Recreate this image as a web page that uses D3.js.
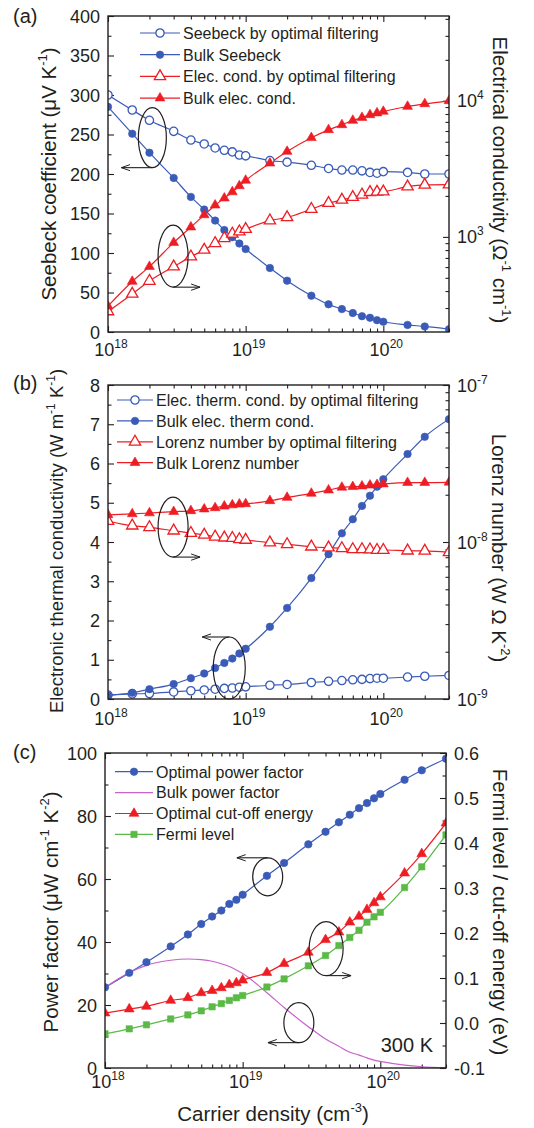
<!DOCTYPE html>
<html>
<head>
<meta charset="utf-8">
<script src="https://cdn.jsdelivr.net/npm/d3@7"></script>
<style>
  body { margin: 0; background: #fff; }
  svg text { font-family: "Liberation Sans", Arial, sans-serif; fill: #231f20; }
</style>
</head>
<body>
<div id="canvas"></div>
<script>
// carrier density grid, shared by the three panels (cm^-3)
var density = [1e18, 1.5e18, 2e18, 3e18, 4e18, 5e18, 6e18, 7e18, 8e18, 9e18,
               1e19, 1.5e19, 2e19, 3e19, 4e19, 5e19, 6e19, 7e19, 8e19, 9e19,
               1e20, 1.5e20, 2e20, 3e20];
var xTickExp = [18, 19, 20];

// (a) Seebeck coefficient (uV/K) and electrical conductivity (1/(ohm cm))
var seebeckFilter = [300, 281, 268, 254, 243, 238, 233, 230, 228, 224, 223, 217, 215, 211, 207, 205, 205, 204, 202, 201, 203, 202, 200, 200];
var seebeckBulk   = [285, 251, 227, 195, 171, 155, 141, 129, 120, 112, 105, 81, 65, 46, 35, 29, 24, 20, 18, 15, 13, 9, 7, 3.5];
var condFilter    = [283, 381, 474, 604, 716, 802, 898, 977, 1053, 1094, 1140, 1318, 1390, 1600, 1770, 1870, 1960, 2040, 2130, 2140, 2150, 2340, 2410, 2420];
var condBulk      = [310, 470, 605, 908, 1180, 1450, 1710, 1925, 2140, 2370, 2600, 3480, 4240, 5350, 6120, 6660, 7170, 7530, 7890, 8130, 8350, 9080, 9500, 10000];
var seebeckTicks  = [0, 50, 100, 150, 200, 250, 300, 350, 400];
var condTickExp   = [3, 4];

// (b) electronic thermal conductivity (W/(m K)) and Lorenz number (W ohm / K^2)
var kappaFilter  = [0.1, 0.13, 0.14, 0.18, 0.21, 0.23, 0.25, 0.27, 0.28, 0.3, 0.31, 0.35, 0.37, 0.42, 0.45, 0.47, 0.49, 0.5, 0.52, 0.53, 0.53, 0.56, 0.58, 0.6];
var kappaBulk    = [0.09, 0.16, 0.25, 0.38, 0.53, 0.65, 0.79, 0.92, 1.03, 1.16, 1.28, 1.84, 2.32, 3.08, 3.69, 4.22, 4.58, 4.92, 5.18, 5.41, 5.6, 6.24, 6.68, 7.13];
var lorenzFilter = [1.36e-8, 1.27e-8, 1.24e-8, 1.18e-8, 1.14e-8, 1.11e-8, 1.08e-8, 1.065e-8, 1.06e-8, 1.04e-8, 1.03e-8, 0.99e-8, 0.966e-8, 0.933e-8, 0.92e-8, 0.912e-8, 0.898e-8, 0.898e-8, 0.895e-8, 0.889e-8, 0.889e-8, 0.88e-8, 0.878e-8, 0.86e-8];
var lorenzBulk   = [1.49e-8, 1.51e-8, 1.53e-8, 1.56e-8, 1.58e-8, 1.62e-8, 1.65e-8, 1.69e-8, 1.72e-8, 1.74e-8, 1.75e-8, 1.83e-8, 1.92e-8, 2.04e-8, 2.14e-8, 2.23e-8, 2.25e-8, 2.27e-8, 2.3e-8, 2.32e-8, 2.34e-8, 2.39e-8, 2.39e-8, 2.4e-8];
var kappaTicks   = [0, 1, 2, 3, 4, 5, 6, 7, 8];
var lorenzTickExp = [-9, -8, -7];

// (c) power factor (uW/(cm K^2)) and energies (eV)
var pfOptimal = [25.6, 30.2, 33.6, 38.6, 42.4, 45.7, 48.1, 50.0, 52.1, 53.4, 55.0, 61.0, 65.1, 71.0, 75.0, 78.0, 80.4, 82.5, 84.1, 85.6, 87.0, 91.5, 94.5, 98.2];
var pfBulk    = [25.5, 30.3, 32.6, 34.2, 34.6, 34.4, 33.9, 33.1, 32.2, 31.1, 30.0, 23.9, 19.2, 13.1, 9.2, 6.9, 5.0, 4.1, 3.2, 2.5, 2.1, 0.9, 0.4, 0.1];
var cutoff    = [0.022, 0.031, 0.037, 0.050, 0.056, 0.067, 0.072, 0.078, 0.085, 0.089, 0.095, 0.112, 0.132, 0.157, 0.185, 0.202, 0.224, 0.237, 0.252, 0.267, 0.28, 0.333, 0.376, 0.444];
var fermi     = [-0.024, -0.013, -0.004, 0.009, 0.018, 0.027, 0.036, 0.043, 0.050, 0.056, 0.061, 0.080, 0.098, 0.127, 0.150, 0.172, 0.190, 0.206, 0.224, 0.236, 0.246, 0.301, 0.347, 0.418];
var pfTicks     = [0, 20, 40, 60, 80, 100];
var energyTicks = ["-0.1", "0.0", "0.1", "0.2", "0.3", "0.4", "0.5", "0.6"];

var BLUE = "#3a5bb8", RED = "#ee1d23", GREEN = "#5ab947", PINK = "#c862c8", INK = "#231f20";

var svg = d3.select("#canvas").append("svg")
    .attr("width", 534)
    .attr("height", 1128);

svg.append("defs").append("marker")
    .attr("id", "arrow")
    .attr("viewBox", "0 0 10 10")
    .attr("refX", 10)
    .attr("refY", 5)
    .attr("markerWidth", 9)
    .attr("markerHeight", 9)
    .attr("markerUnits", "userSpaceOnUse")
    .attr("orient", "auto")
  .append("path")
    .attr("d", "M0,1.5L10,5L0,8.5")
    .attr("fill", "none")
    .attr("stroke", INK)
    .attr("stroke-width", 1.1);

// writes text made of plain parts and "^" superscript parts
function rich(text, parts, size) {
  var shift = 0;
  parts.forEach(function (p) {
    var sup = p[0] === "^";
    var want = sup ? -Math.round(size * 0.42) : 0;
    var t = text.append("tspan").text(sup ? p.slice(1) : p).attr("dy", want - shift);
    if (sup) t.attr("font-size", Math.round(size * 0.64));
    shift = want;
  });
  return text;
}

function symbolPath(s) {
  var types = { circle: d3.symbolCircle, triangle: d3.symbolTriangle, square: d3.symbolSquare };
  var size = s.marker === "circle" ? (s.open ? 54 : 44) : s.marker === "triangle" ? (s.open ? 56 : 42) : 40;
  return d3.symbol(types[s.marker], size)();
}

function drawPanel(p) {
  var g = svg.append("g");
  var x = d3.scaleLog().domain([1e18, 3e20]).range([p.l, p.r]);
  var yL = p.yLeft.range([p.b, p.t]);
  var yR = p.yRight.range([p.b, p.t]);

  svg.select("defs").append("clipPath").attr("id", "clip-" + p.id)
    .append("rect").attr("x", p.l).attr("y", p.t).attr("width", p.r - p.l).attr("height", p.b - p.t);

  // ticks, all pointing into the frame
  function ticks(axis, scale, values, size, tx, ty) {
    var a = g.append("g").attr("transform", "translate(" + tx + "," + ty + ")")
      .style("color", INK)
      .call(axis(scale).tickValues(values).tickSize(-size).tickFormat(""));
    a.select(".domain").remove();
    a.selectAll("line").attr("stroke-width", 1.1);
  }
  var xMajor = xTickExp.map(function (e) { return Math.pow(10, e); });
  var xMinor = x.ticks().filter(function (v) { return xMajor.indexOf(v) < 0; });
  ticks(d3.axisBottom, x, xMajor, 6, 0, p.b);
  ticks(d3.axisBottom, x, xMinor, 3.5, 0, p.b);
  ticks(d3.axisTop, x, xMajor, 6, 0, p.t);
  ticks(d3.axisTop, x, xMinor, 3.5, 0, p.t);
  ticks(d3.axisLeft, yL, p.leftMajor, 6, p.l, 0);
  ticks(d3.axisLeft, yL, p.leftMinor, 3.5, p.l, 0);
  ticks(d3.axisRight, yR, p.rightMajor, 6, p.r, 0);
  ticks(d3.axisRight, yR, p.rightMinor, 3.5, p.r, 0);

  // series
  var plot = g.append("g").attr("clip-path", "url(#clip-" + p.id + ")");
  p.series.forEach(function (s) {
    var y = s.axis === "right" ? yR : yL;
    var pts = density.map(function (n, i) { return [n, s.values[i]]; });
    plot.append("path").datum(pts)
      .attr("d", d3.line().x(function (d) { return x(d[0]); }).y(function (d) { return y(d[1]); }).curve(d3.curveMonotoneX))
      .attr("fill", "none")
      .attr("stroke", s.color)
      .attr("stroke-width", 1.2);
  });
  p.series.forEach(function (s) {
    if (!s.marker) return;
    var y = s.axis === "right" ? yR : yL;
    plot.selectAll(null).data(s.values).join("path")
      .attr("transform", function (v, i) { return "translate(" + x(density[i]) + "," + y(v) + ")"; })
      .attr("d", symbolPath(s))
      .attr("fill", s.open ? "#fff" : s.color)
      .attr("stroke", s.color)
      .attr("stroke-width", s.open ? 1.3 : 0.6);
  });

  // frame
  g.append("rect").attr("x", p.l).attr("y", p.t).attr("width", p.r - p.l).attr("height", p.b - p.t)
    .attr("fill", "none").attr("stroke", INK).attr("stroke-width", 1.4);

  // tick labels
  xTickExp.forEach(function (e) {
    rich(g.append("text").attr("x", x(Math.pow(10, e)) + 3).attr("y", p.b + p.xLabelDy)
      .attr("text-anchor", "middle").attr("font-size", 18), ["10", "^" + e], 18);
  });
  p.leftLabels.forEach(function (lab, i) {
    g.append("text").attr("x", p.l - 8).attr("y", yL(p.leftMajor[i]) + 6.5)
      .attr("text-anchor", "end").attr("font-size", 18).text(lab);
  });
  p.rightLabels.forEach(function (lab, i) {
    rich(g.append("text").attr("x", p.r + 8).attr("y", yR(p.rightMajor[i]) + 6.5)
      .attr("font-size", 18), lab, 18);
  });

  // axis titles
  rich(g.append("text").attr("transform", "translate(" + p.leftTitle.x + "," + p.leftTitle.y + ") rotate(-90)")
    .attr("text-anchor", "middle").attr("font-size", p.leftTitle.size), p.leftTitle.parts, p.leftTitle.size);
  rich(g.append("text").attr("transform", "translate(" + p.rightTitle.x + "," + p.rightTitle.y + ") rotate(90)")
    .attr("text-anchor", "middle").attr("font-size", p.rightTitle.size), p.rightTitle.parts, p.rightTitle.size);
  g.append("text").attr("x", 13).attr("y", p.tagY).attr("font-size", 20).text("(" + p.id + ")");

  // legend
  p.series.forEach(function (s, i) {
    var ly = p.legend.y + i * p.legend.dy;
    g.append("line").attr("x1", p.legend.x1).attr("x2", p.legend.x2).attr("y1", ly).attr("y2", ly)
      .attr("stroke", s.color).attr("stroke-width", 1.2);
    if (s.marker) {
      g.append("path").attr("transform", "translate(" + (p.legend.x1 + p.legend.x2) / 2 + "," + ly + ")")
        .attr("d", symbolPath(s))
        .attr("fill", s.open ? "#fff" : s.color)
        .attr("stroke", s.color)
        .attr("stroke-width", s.open ? 1.3 : 0.6);
    }
    g.append("text").attr("x", p.legend.x2 + 3).attr("y", ly + 5.8).attr("font-size", 16).text(s.name);
  });

  // ellipses with arrows pointing to the axis they belong to
  p.notes.forEach(function (n) {
    var cx = x(n.at[0]), cy = yL(n.at[1]);
    g.append("ellipse").attr("cx", cx).attr("cy", cy).attr("rx", n.rx).attr("ry", n.ry)
      .attr("fill", "none").attr("stroke", INK).attr("stroke-width", 1.2);
    var ay = n.from === "top" ? cy - n.ry : cy + n.ry;
    g.append("line").attr("x1", cx).attr("y1", ay).attr("x2", cx + n.len).attr("y2", ay)
      .attr("stroke", INK).attr("stroke-width", 1.1).attr("marker-end", "url(#arrow)");
  });

  return { x: x, yL: yL, yR: yR, g: g };
}

// (a)
drawPanel({
  id: "a", l: 108, r: 449, t: 16, b: 332, tagY: 23, xLabelDy: 24,
  yLeft: d3.scaleLinear().domain([0, 400]),
  yRight: d3.scaleLog().domain([200, 42000]),
  leftMajor: seebeckTicks, leftMinor: d3.range(25, 400, 50), leftLabels: seebeckTicks.map(String),
  rightMajor: condTickExp.map(function (e) { return Math.pow(10, e); }),
  rightMinor: [300, 400, 500, 600, 700, 800, 900, 2000, 3000, 4000, 5000, 6000, 7000, 8000, 9000, 20000, 30000, 40000],
  rightLabels: condTickExp.map(function (e) { return ["10", "^" + e]; }),
  leftTitle: { x: 56, y: 174, size: 20.5, parts: ["Seebeck coefficient (\u03bcV K", "^-1", ")"] },
  rightTitle: { x: 493, y: 180, size: 20.5, parts: ["Electrical conductivity (\u03a9", "^-1", " cm", "^-1", ")"] },
  legend: { x1: 140, x2: 180, y: 33, dy: 21.7 },
  series: [
    { name: "Seebeck by optimal filtering", values: seebeckFilter, color: BLUE, marker: "circle", open: true },
    { name: "Bulk Seebeck", values: seebeckBulk, color: BLUE, marker: "circle" },
    { name: "Elec. cond. by optimal filtering", values: condFilter, axis: "right", color: RED, marker: "triangle", open: true },
    { name: "Bulk elec. cond.", values: condBulk, axis: "right", color: RED, marker: "triangle" }
  ],
  notes: [
    { at: [2.1e18, 246], rx: 14, ry: 30, from: "bottom", len: -31 },
    { at: [2.97e18, 96], rx: 15, ry: 31, from: "bottom", len: 27 }
  ]
});

// (b)
drawPanel({
  id: "b", l: 108, r: 449, t: 385, b: 699, tagY: 390, xLabelDy: 26,
  yLeft: d3.scaleLinear().domain([0, 8]),
  yRight: d3.scaleLog().domain([1e-9, 1e-7]),
  leftMajor: kappaTicks, leftMinor: d3.range(0.5, 8, 1), leftLabels: kappaTicks.map(String),
  rightMajor: lorenzTickExp.map(function (e) { return Math.pow(10, e); }),
  rightMinor: [2e-9, 3e-9, 4e-9, 5e-9, 6e-9, 7e-9, 8e-9, 9e-9, 2e-8, 3e-8, 4e-8, 5e-8, 6e-8, 7e-8, 8e-8, 9e-8],
  rightLabels: lorenzTickExp.map(function (e) { return ["10", "^" + e]; }),
  leftTitle: { x: 63, y: 541, size: 18.5, parts: ["Electronic thermal conductivity (W m", "^-1", " K", "^-1", ")"] },
  rightTitle: { x: 492, y: 548, size: 20.5, parts: ["Lorenz number (W \u03a9 K", "^-2", ")"] },
  legend: { x1: 117, x2: 153, y: 400, dy: 20.9 },
  series: [
    { name: "Elec. therm. cond. by optimal filtering", values: kappaFilter, color: BLUE, marker: "circle", open: true },
    { name: "Bulk elec. therm cond.", values: kappaBulk, color: BLUE, marker: "circle" },
    { name: "Lorenz number by optimal filtering", values: lorenzFilter, axis: "right", color: RED, marker: "triangle", open: true },
    { name: "Bulk Lorenz number", values: lorenzBulk, axis: "right", color: RED, marker: "triangle" }
  ],
  notes: [
    { at: [2.97e18, 4.38], rx: 15, ry: 30, from: "bottom", len: 27 },
    { at: [7.6e18, 0.79], rx: 16, ry: 31, from: "top", len: -27 }
  ]
});

// (c)
var pc = drawPanel({
  id: "c", l: 105, r: 446, t: 753, b: 1068, tagY: 759, xLabelDy: 20,
  yLeft: d3.scaleLinear().domain([0, 100]),
  yRight: d3.scaleLinear().domain([-0.1, 0.6]),
  leftMajor: pfTicks, leftMinor: d3.range(10, 100, 20), leftLabels: pfTicks.map(String),
  rightMajor: energyTicks.map(Number), rightMinor: d3.range(-0.05, 0.6, 0.1),
  rightLabels: energyTicks.map(function (t) { return [t]; }),
  leftTitle: { x: 58, y: 912, size: 20.5, parts: ["Power factor (\u03bcW cm", "^-1", " K", "^-2", ")"] },
  rightTitle: { x: 493, y: 912, size: 20.5, parts: ["Fermi level / cut-off energy (eV)"] },
  legend: { x1: 115, x2: 153, y: 771.7, dy: 20.9 },
  series: [
    { name: "Optimal power factor", values: pfOptimal, color: BLUE, marker: "circle" },
    { name: "Bulk power factor", values: pfBulk, color: PINK },
    { name: "Optimal cut-off energy", values: cutoff, axis: "right", color: RED, marker: "triangle" },
    { name: "Fermi level", values: fermi, axis: "right", color: GREEN, marker: "square" }
  ],
  notes: [
    { at: [1.52e19, 60.7], rx: 15, ry: 19, from: "top", len: -31 },
    { at: [4.04e19, 37.9], rx: 17, ry: 27, from: "bottom", len: 25 },
    { at: [2.56e19, 14.4], rx: 15, ry: 20, from: "bottom", len: -31 }
  ]
});

pc.g.append("text").attr("x", 433).attr("y", 1052).attr("text-anchor", "end").attr("font-size", 20).text("300 K");
rich(pc.g.append("text").attr("x", 273).attr("y", 1121).attr("text-anchor", "middle").attr("font-size", 20.5),
  ["Carrier density (cm", "^-3", ")"], 20.5);
</script>
</body>
</html>
